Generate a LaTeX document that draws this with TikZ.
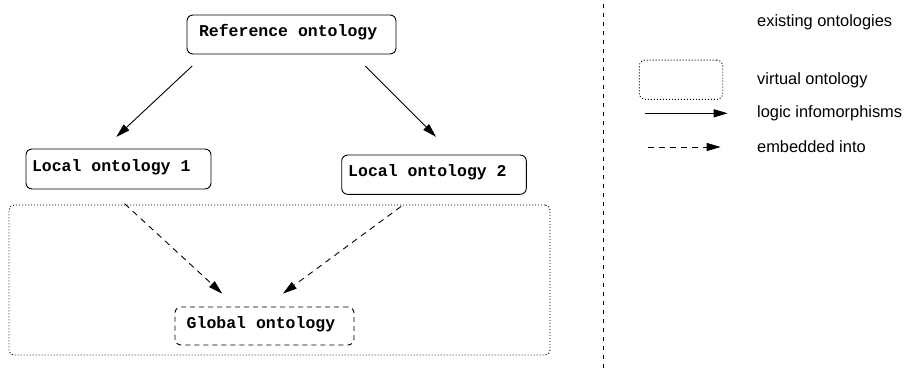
\documentclass[tikz,border=0pt]{standalone}
\usepackage{fontspec}
\usetikzlibrary{arrows.meta,calc}
\newfontfamily\boxfont{Liberation Mono}
\newfontfamily\legfont{Liberation Sans}
\newcommand\msp{\hspace*{0.6em}}
\begin{document}
\begin{tikzpicture}[x=1pt,y=-1pt,
  obox/.style={draw,rounded corners=6pt,line width=0.9pt,align=left,
    font=\boxfont\bfseries\fontsize{16.5}{18}\selectfont,
    inner ysep=0pt,text height=0.62em,text depth=0.16em},
  arr/.style={line width=0.9pt,-{Triangle[length=14pt,width=8pt]}},
  darr/.style={arr,dash pattern=on 6pt off 5pt},
  legtxt/.style={anchor=west,inner sep=0pt,font=\legfont\fontsize{16.4}{18}\selectfont}]
\useasboundingbox (0,0) rectangle (907,375);

% virtual ontology region
\node[draw,line width=0.9pt,dash pattern=on 1pt off 2pt,rounded corners=5pt,
  minimum width=541pt,minimum height=150pt,inner sep=0pt] (virt) at (279.5,280) {};

% ontology nodes
\node[obox,inner xsep=12pt,text width=185pt,minimum height=39pt] (ref) at (291.5,34.5) {Reference\msp ontology};
\node[obox,inner xsep=6pt,text width=173pt,minimum height=40pt] (loc1) at (118.5,169) {Local\msp ontology\msp 1};
\node[obox,inner xsep=6.5pt,text width=171.6pt,minimum height=39.3pt] (loc2) at (434,174.65) {Local\msp ontology\msp 2};
\node[obox,dash pattern=on 5pt off 4pt,inner xsep=11.7pt,text width=155.6pt,minimum height=38pt] (glob) at (264.5,326) {Global\msp ontology};

% logic infomorphisms
\draw[arr,shorten <=17pt,shorten >=17pt] ($(ref.south west)+(18,0)$) -- ($(loc1.north west)+(78.3,0)$);
\draw[arr,shorten <=16.5pt,shorten >=25pt] ($(ref.south west)+(167.1,0)$) -- ($(loc2.north west)+(112.5,0)$);

% embedded into
\draw[darr,shorten <=21pt,shorten >=19.1pt] ($(loc1.south west)+(83.6,0)$) -- ($(glob.north west)+(61.7,0)$);
\draw[darr,shorten <=19.6pt,shorten >=21.8pt] ($(loc2.south west)+(75.7,0)$) -- ($(glob.north west)+(90.8,0)$);

% separator
\coordinate (septop) at (603,4);
\coordinate (sepbot) at (603,372);
\draw[line width=0.9pt,dash pattern=on 4pt off 5pt] (septop) -- (sepbot);

% legend
\node[legtxt] (lexist) at (757,22.7) {existing ontologies};
\node[draw,line width=0.9pt,dash pattern=on 1pt off 2pt,rounded corners=6pt,
  minimum width=83.4pt,minimum height=39.3pt,inner sep=0pt] (lvirt) at (681,79.7) {};
\node[legtxt] (lvtxt) at (757,80) {virtual ontology};
\coordinate (la1) at (645,113.3);
\coordinate (la2) at (727.7,113.3);
\draw[arr] (la1) -- (la2);
\node[legtxt] (latxt) at (757,113.3) {logic infomorphisms};
\coordinate (ld1) at (648,147);
\coordinate (ld2) at (720.7,147);
\draw[darr] (ld1) -- (ld2);
\node[legtxt] (ldtxt) at (757,147) {embedded into};
\end{tikzpicture}
\end{document}
